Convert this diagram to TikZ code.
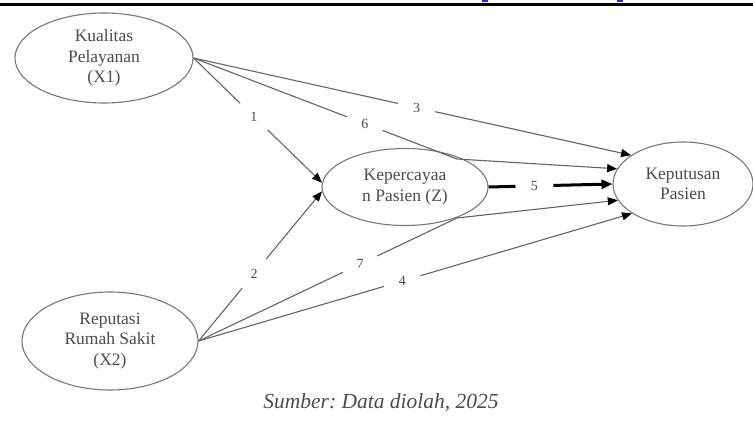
\documentclass[tikz,border=0pt]{standalone}
\usepackage{fontspec}
\setmainfont{Liberation Serif}
\usetikzlibrary{arrows.meta,shapes.geometric}
\definecolor{ellgray}{RGB}{120,120,120}
\definecolor{lngray}{RGB}{100,100,100}
\definecolor{txtgray}{RGB}{75,75,75}
\definecolor{linkblue}{RGB}{40,40,230}
\frenchspacing
\begin{document}
\begin{tikzpicture}[x=1pt,y=-1pt,
  var/.style={ellipse, draw=ellgray, line width=1.1pt, inner sep=0pt, align=center,
    font=\fontsize{17.5}{20.5}\selectfont, text=txtgray},
  conn/.style={draw=lngray, line width=1.1pt},
  arr/.style={conn, -{Triangle[length=10pt,width=8pt,color=black,fill=black]}},
  boldarr/.style={draw=black, line width=3pt, -{Triangle[length=11pt,width=9pt,color=black,fill=black]}},
  lab/.style={circle, fill=white, minimum size=38pt, inner sep=0pt,
    font=\fontsize{14}{14}\selectfont, text=txtgray}]
\useasboundingbox (0,0) rectangle (753,425);
% top rule and link fragments
\draw[black, line width=2.8pt] (0,4.2) -- (753,4.2);
\fill[linkblue] (482,0) rectangle (488,1.6);
\fill[linkblue] (617,0) rectangle (623,1.6);
% variables
\node[var, minimum width=178pt, minimum height=90pt] (X1) at (104,58) {Kualitas\\Pelayanan\\(X1)};
\node[var, minimum width=176pt, minimum height=98pt] (X2) at (110,341) {Reputasi\\Rumah Sakit\\(X2)};
\node[var, minimum width=166pt, minimum height=77pt] (Z) at (405,187) {Kepercayaa\\n Pasien (Z)};
\node[var, minimum width=140pt, minimum height=84pt] (Y) at (683,184) {Keputusan\\Pasien};
% bend points of the indirect paths
\coordinate (c6) at (457,159);
\coordinate (c7) at (457,218);
% paths
\draw[arr] (X1.east) -- node[lab, pos=0.47] {1} (Z.177);
\draw[arr] (X2.east) -- node[lab, pos=0.45] {2} (Z.183);
\draw[arr] (X1.east) -- node[lab, pos=0.51] {3} (Y.151);
\draw[arr] (X2.east) -- node[lab, pos=0.47] {4} (Y.210);
\draw[conn] (X1.east) -- node[lab, pos=0.65] {6} (c6);
\draw[arr] (c6) -- (Y.167);
\draw[conn] (X2.east) -- node[lab, pos=0.625] {7} (c7);
\draw[arr] (c7) -- (Y.194);
\draw[boldarr] (Z.east) -- node[lab, pos=0.37] {5} (Y.west);
% caption
\node[font=\fontsize{21.5}{25}\selectfont\itshape, text=txtgray] (cap) at (381,403) {Sumber: Data diolah, 2025};
\end{tikzpicture}
\end{document}
